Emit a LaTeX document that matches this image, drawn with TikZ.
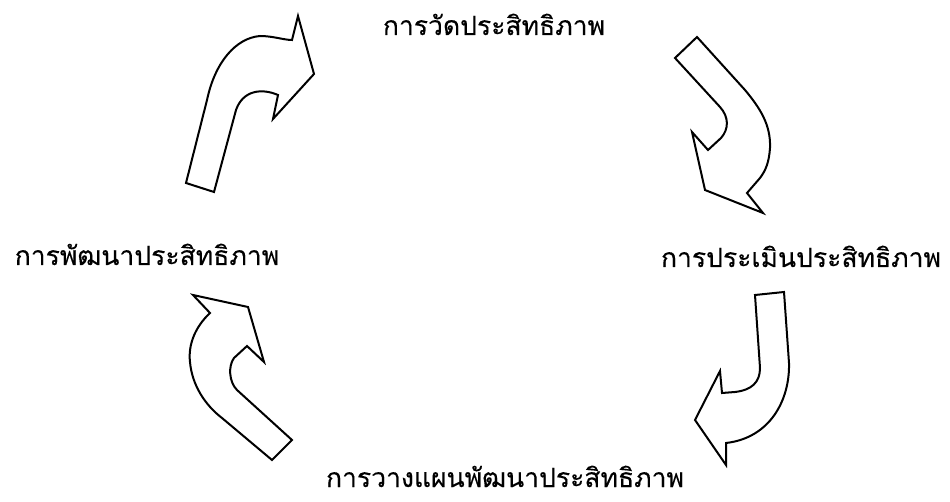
\documentclass[tikz,border=0pt]{standalone}
\usepackage{fontspec}
\newfontfamily\thaifont[Script=Thai,FakeBold=0.3]{Loma}
\begin{document}
\begin{tikzpicture}[x=1pt,y=-1pt,
  bentarrow/.style={draw=black,fill=white,line width=2pt,line join=miter},
  label/.style={font=\thaifont\fontsize{26.5}{30}\selectfont,anchor=base,inner sep=0pt}]
\useasboundingbox (0,0) rectangle (950,502);
% texts
\node[label] (measure) at (494,35) {การวัดประสิทธิภาพ};
\node[label] (evaluate) at (801,267) {การประเมินประสิทธิภาพ};
\node[label] (plan) at (505,487) {การวางแผนพัฒนาประสิทธิภาพ};
\node[label] (develop) at (147,265) {การพัฒนาประสิทธิภาพ};
% arrow 1 (develop -> measure)
\draw[bentarrow] (186,183) -- (207,100) .. controls (215,62) and (236,38) .. (260,36)
  .. controls (273,36) and (284,40) .. (292,40) -- (298,16) -- (314,74) -- (273,119) -- (278,95)
  .. controls (262,88) and (243,90) .. (236,110) -- (214,192) -- cycle;
% arrow 2 (measure -> evaluate)
\draw[bentarrow] (675,58) -- (697,37) -- (745,90) .. controls (760,108) and (771,125) .. (770,148)
  .. controls (769,162) and (766,170) .. (760,178) -- (747,193) -- (763,213) -- (705,190) -- (692,132)
  -- (708,150) -- (721,138) .. controls (729,129) and (729,117) .. (720,107) -- cycle;
% arrow 3 (evaluate -> plan)
\draw[bentarrow] (755,295) -- (784,292) -- (789,363) .. controls (790,400) and (770,438) .. (726,443)
  -- (726,465) -- (695,420) -- (720,371) -- (722,393) -- (735,392)
  .. controls (752,390) and (760,382) .. (760,368) -- cycle;
% arrow 4 (plan -> develop)
\draw[bentarrow] (272,460) -- (292,440) -- (237,390) .. controls (229,382) and (228,366) .. (234,358)
  -- (247,346) -- (264,362) -- (248,307) -- (193,295) -- (210,313)
  .. controls (195,327) and (188,345) .. (190,362) .. controls (192,385) and (205,405) .. (222,418) -- cycle;
\end{tikzpicture}
\end{document}
